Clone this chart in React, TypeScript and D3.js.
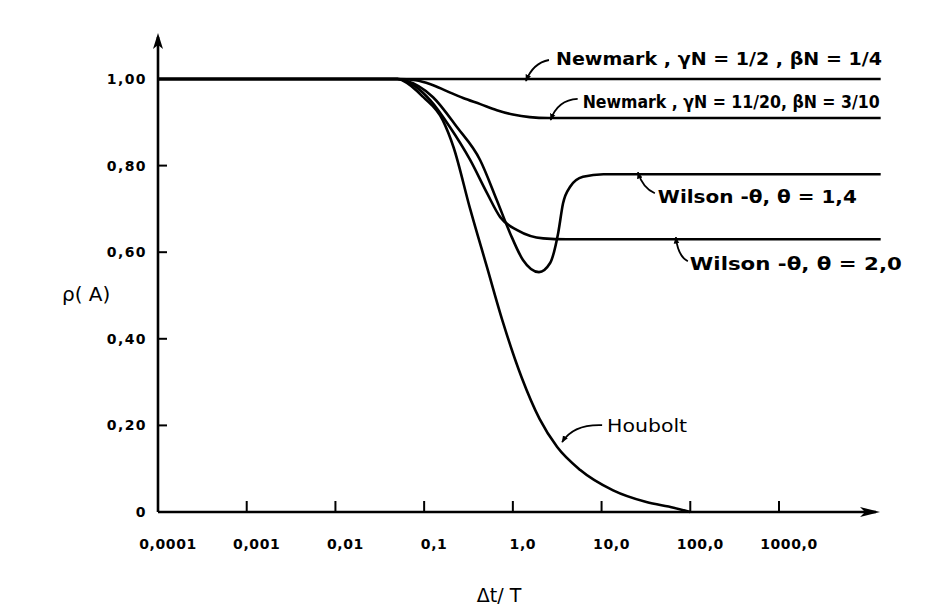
import React from "react";
import * as d3 from "d3";

// Axis ticks (Δt/T on a log scale, ρ(A) linear)
const xTicks = [0.0001, 0.001, 0.01, 0.1, 1, 10, 100, 1000];
const xTickLabels = ["0,0001", "0,001", "0,01", "0,1", "1,0", "10,0", "100,0", "1000,0"];
const yTicks = [0, 0.2, 0.4, 0.6, 0.8, 1.0];
const yTickLabels = ["0", "0,20", "0,40", "0,60", "0,80", "1,00"];

// Spectral radius ρ(A) versus Δt/T for each integration scheme: [Δt/T, ρ]
const newmarkTrapezoid: [number, number][] = [
  [0.0001, 1.0],
  [14000, 1.0],
];

const newmarkDamped: [number, number][] = [
  [0.0001, 1.0],
  [0.05, 1.0],
  [0.08, 0.997],
  [0.118, 0.988],
  [0.18, 0.972],
  [0.275, 0.956],
  [0.43, 0.942],
  [0.66, 0.928],
  [1.0, 0.918],
  [1.55, 0.912],
  [2.5, 0.91],
  [14000, 0.91],
];

const wilson14: [number, number][] = [
  [0.0001, 1.0],
  [0.05, 1.0],
  [0.06, 0.997],
  [0.126, 0.958],
  [0.234, 0.889],
  [0.427, 0.813],
  [0.66, 0.72],
  [0.93, 0.644],
  [1.3, 0.582],
  [1.97, 0.554],
  [2.63, 0.575],
  [3.24, 0.644],
  [3.68, 0.713],
  [4.42, 0.751],
  [6.17, 0.774],
  [10.5, 0.78],
  [14000, 0.78],
];

const wilson20: [number, number][] = [
  [0.0001, 1.0],
  [0.05, 1.0],
  [0.0575, 0.998],
  [0.117, 0.951],
  [0.195, 0.889],
  [0.33, 0.813],
  [0.51, 0.737],
  [0.72, 0.681],
  [1.12, 0.651],
  [2.2, 0.632],
  [4.0, 0.63],
  [14000, 0.63],
];

const houbolt: [number, number][] = [
  [0.0001, 1.0],
  [0.05, 1.0],
  [0.058, 0.996],
  [0.098, 0.958],
  [0.162, 0.905],
  [0.214, 0.843],
  [0.33, 0.7],
  [0.51, 0.566],
  [0.76, 0.443],
  [1.26, 0.31],
  [2.0, 0.215],
  [3.16, 0.15],
  [5.75, 0.097],
  [13.5, 0.05],
  [32, 0.023],
  [65, 0.01],
  [100, 0.0],
];

// Curve labels and the point on each curve that its leader points to [Δt/T, ρ]
const labelTexts = [
  "Newmark ,  γN = 1/2 , βN = 1/4",
  "Newmark , γN = 11/20, βN = 3/10",
  "Wilson  -θ, θ = 1,4",
  "Wilson -θ, θ = 2,0",
  "Houbolt",
];
const labelTargets: [number, number][] = [
  [1.37, 1.0],
  [2.6, 0.91],
  [25, 0.78],
  [67, 0.63],
  [3.5, 0.166],
];

const W = 934;
const H = 606;

export default function App() {
  const x = d3.scaleLog().domain([1e-4, 1e3]).range([158, 779]);
  const y = d3.scaleLinear().domain([0, 1]).range([512, 79]);
  const xArrow = 880;
  const yArrow = 33;

  const line = d3
    .line<[number, number]>()
    .x((d) => x(d[0]))
    .y((d) => y(d[1]))
    .curve(d3.curveMonotoneX);

  const series = [newmarkTrapezoid, newmarkDamped, wilson14, wilson20, houbolt];

  // Text placement and leader hook relative to each target point
  const leaders = [
    { tx: 31, ty: -14, sx: 24, sy: -19, cx: 8, cy: -16, len: 326, fs: 18 },
    { tx: 33, ty: -10, sx: 28, sy: -19, cx: 8, cy: -18, len: 297, fs: 17 },
    { tx: 21, ty: 29, sx: 18, sy: 19, cx: 6, cy: 14, len: 199, fs: 18 },
    { tx: 15, ty: 31, sx: 13, sy: 22, cx: 3, cy: 17, len: 212, fs: 18 },
    { tx: 46, ty: -8, sx: 41, sy: -15, cx: 12, cy: -16, len: 80, fs: 18 },
  ];

  return (
    <svg
      width={W}
      height={H}
      viewBox={`0 0 ${W} ${H}`}
      style={{ position: "absolute", left: 0, top: 0, background: "#fff" }}
    >
      <defs>
        <marker
          id="tip"
          viewBox="0 0 10 10"
          refX="9"
          refY="5"
          markerWidth="7"
          markerHeight="7"
          markerUnits="userSpaceOnUse"
          orient="auto"
        >
          <path d="M0,1 L10,5 L0,9 z" fill="#000" />
        </marker>
      </defs>

      {/* axes */}
      <g stroke="#000" strokeWidth={2.6} fill="none">
        <line x1={x(1e-4)} y1={y(0)} x2={xArrow - 4} y2={y(0)} />
        <line x1={x(1e-4)} y1={y(0)} x2={x(1e-4)} y2={yArrow + 4} />
      </g>
      <path
        d={`M${xArrow},${y(0)} L${xArrow - 20},${y(0) - 5} L${xArrow - 15},${y(0)} L${xArrow - 20},${y(0) + 5} z`}
        fill="#000"
      />
      <path
        d={`M${x(1e-4)},${yArrow} L${x(1e-4) - 5},${yArrow + 16} L${x(1e-4)},${yArrow + 12} L${x(1e-4) + 5},${yArrow + 16} z`}
        fill="#000"
      />

      {/* ticks */}
      <g stroke="#000" strokeWidth={2}>
        {xTicks.slice(1).map((t) => (
          <line key={t} x1={x(t)} x2={x(t)} y1={y(0)} y2={y(0) - 11} />
        ))}
        {yTicks.slice(1).map((t) => (
          <line key={t} x1={x(1e-4)} x2={x(1e-4) + 9} y1={y(t)} y2={y(t)} />
        ))}
      </g>

      <g fontFamily="DejaVu Sans" fontWeight="bold" fontSize={14} fill="#000">
        {xTicks.map((t, i) => (
          <text key={t} x={x(t) + 10} y={549} textAnchor="middle" letterSpacing={0.6}>
            {xTickLabels[i]}
          </text>
        ))}
        {yTicks.map((t, i) => (
          <text key={t} x={147} y={y(t) + 5} textAnchor="end" letterSpacing={1.4}>
            {yTickLabels[i]}
          </text>
        ))}
      </g>

      {/* axis titles */}
      <text x={62} y={301} fontFamily="DejaVu Sans" fontSize={20} fill="#000">
        ρ( A)
      </text>
      <text x={499} y={602} fontFamily="DejaVu Sans" fontSize={19} textAnchor="middle" fill="#000">
        Δt/ T
      </text>

      {/* curves */}
      <g fill="none" stroke="#000" strokeWidth={2.6} strokeLinejoin="round">
        {series.map((s, i) => (
          <path key={i} d={line(s) ?? ""} />
        ))}
      </g>

      {/* labels with leaders */}
      {labelTexts.map((txt, i) => {
        const px = x(labelTargets[i][0]);
        const py = y(labelTargets[i][1]);
        const L = leaders[i];
        const d = `M${px + L.sx},${py + L.sy} Q${px + L.cx},${py + L.cy} ${px + 1},${py - Math.sign(L.sy) * 2}`;
        return (
          <g key={i}>
            <path d={d} fill="none" stroke="#000" strokeWidth={1.8} markerEnd="url(#tip)" />
            <text
              x={px + L.tx}
              y={py + L.ty}
              fontFamily="DejaVu Sans"
              fontWeight={i === 4 ? "normal" : "bold"}
              fontSize={L.fs}
              textLength={L.len}
              lengthAdjust="spacingAndGlyphs"
              fill="#000"
            >
              {txt}
            </text>
          </g>
        );
      })}
    </svg>
  );
}
